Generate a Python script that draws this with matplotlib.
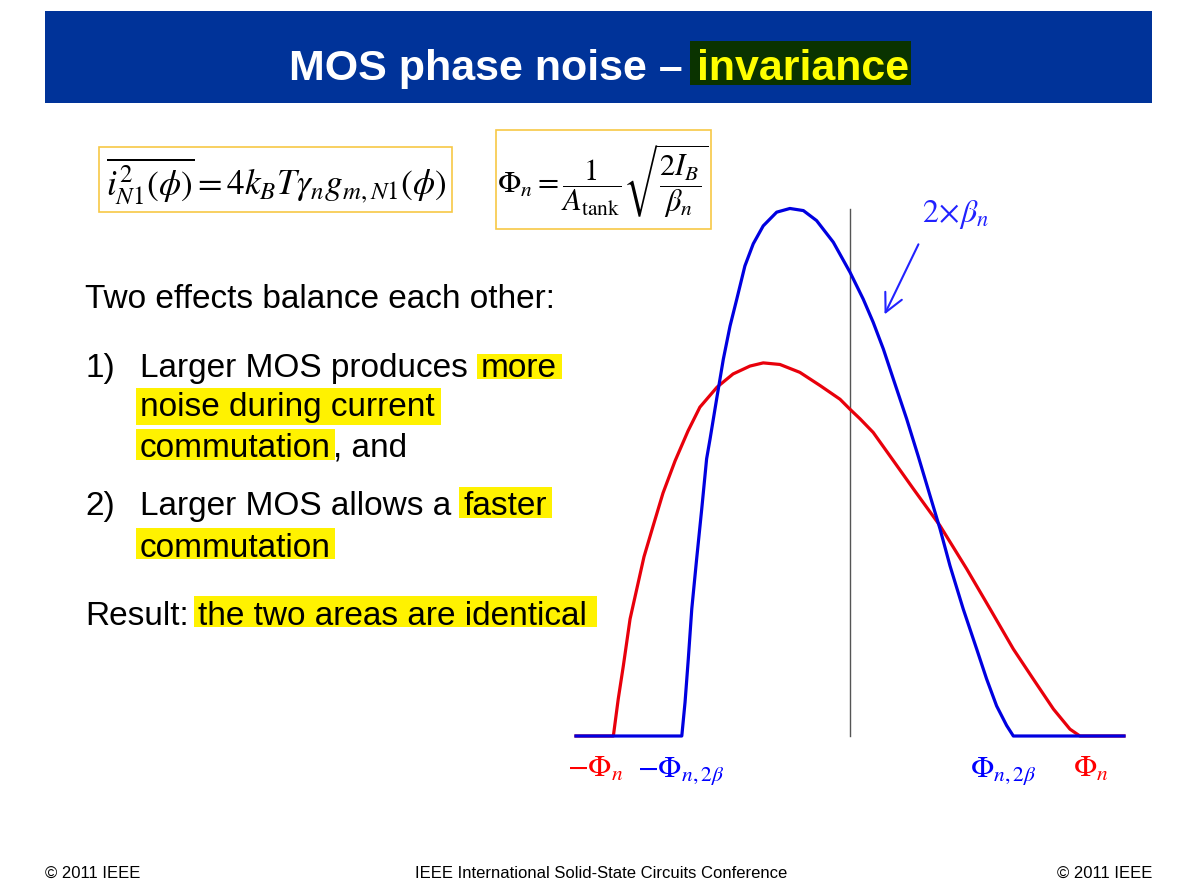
import matplotlib
matplotlib.use("Agg")
import matplotlib.pyplot as plt
from matplotlib.patches import Rectangle

plt.rcParams["font.family"] = ["Liberation Sans", "DejaVu Sans"]
plt.rcParams["mathtext.fontset"] = "stix"

# curves, normalised: phase (x) and noise density (y)
RED_X = [-1.181, -1.020, -0.999, -0.977, -0.948, -0.918, -0.888, -0.849, -0.806, -0.754,
         -0.698, -0.647, -0.573, -0.504, -0.431, -0.374, -0.302, -0.216, -0.129, -0.043,
         0.0, 0.043, 0.100, 0.194, 0.273, 0.388, 0.503, 0.604, 0.704, 0.790,
         0.877, 0.948, 0.991, 1.181]
RED_Y = [0.0, 0.0, 0.070, 0.133, 0.222, 0.281, 0.340, 0.398, 0.461, 0.522,
         0.579, 0.624, 0.662, 0.687, 0.702, 0.708, 0.705, 0.690, 0.665, 0.639,
         0.620, 0.602, 0.576, 0.518, 0.469, 0.399, 0.317, 0.241, 0.165, 0.108,
         0.051, 0.013, 0.0, 0.0]

BLUE_X = [-1.181, -0.725, -0.711, -0.697, -0.682, -0.661, -0.639, -0.618, -0.603, -0.575,
          -0.546, -0.517, -0.488, -0.453, -0.417, -0.374, -0.316, -0.259, -0.201, -0.144,
          -0.072, 0.0, 0.057, 0.100, 0.144, 0.187, 0.244, 0.294, 0.345, 0.388,
          0.431, 0.488, 0.546, 0.589, 0.632, 0.675, 0.704, 1.181]
BLUE_Y = [0.0, 0.0, 0.064, 0.146, 0.241, 0.336, 0.431, 0.526, 0.564, 0.639,
          0.715, 0.778, 0.829, 0.892, 0.934, 0.968, 0.994, 1.001, 0.997, 0.978,
          0.937, 0.880, 0.829, 0.785, 0.734, 0.677, 0.602, 0.531, 0.456, 0.393,
          0.323, 0.241, 0.165, 0.108, 0.057, 0.020, 0.0, 0.0]

TICK_X = [-1.097, -0.73, 0.66, 1.037]
TICK_LABELS = [r"$-\Phi_n$", r"$-\Phi_{n,2\beta}$", r"$\Phi_{n,2\beta}$", r"$\Phi_n$"]
TICK_COLORS = ["#FF0000", "#0000FF", "#0000FF", "#FF0000"]

RED = "#E8000B"
BLUE = "#0000E0"
YELLOW = "#FFF200"
BOX_EDGE = "#F7C846"

fig = plt.figure(figsize=(11.99, 8.87), dpi=100)

# slide layer in pixel coordinates
bg = fig.add_axes([0, 0, 1, 1])
bg.set_xlim(0, 1199)
bg.set_ylim(887, 0)
bg.axis("off")

# title bar
bg.add_patch(Rectangle((45, 12), 1107, 92, fc="#003399", ec="none"))
bg.add_patch(Rectangle((690, 42), 221, 44, fc="#0A3300", ec="none"))
bg.text(289, 80, "MOS phase noise \u2013 ", color="white", fontsize=31,
        fontweight="bold", va="baseline")
bg.text(697, 80, "invariance", color="#FFFF00", fontsize=31,
        fontweight="bold", va="baseline")

# formula boxes
bg.add_patch(Rectangle((99, 148), 353, 65, fc="white", ec=BOX_EDGE, lw=1.2))
bg.text(276, 181, r"$\overline{i_{N1}^{2}\left(\phi\right)} = 4k_B T\gamma_n g_{m,N1}\left(\phi\right)$",
        fontsize=25.5, ha="center", va="center")
bg.add_patch(Rectangle((496, 131), 215, 99, fc="white", ec=BOX_EDGE, lw=1.2))
bg.text(603, 181, r"$\Phi_n = \dfrac{1}{A_{\mathrm{tank}}}\sqrt{\dfrac{2I_B}{\beta_n}}$",
        fontsize=22, ha="center", va="center")

# highlight boxes
for x0, y0, w, h in [(477, 355, 85, 25), (136, 389, 305, 37), (136, 430, 199, 31),
                     (459, 488, 93, 31), (136, 529, 199, 31), (194, 597, 403, 31)]:
    bg.add_patch(Rectangle((x0, y0), w, h, fc=YELLOW, ec="none"))

body = dict(fontsize=24, va="baseline", color="black")
bg.text(85, 308, "Two effects balance each other:", **body)
bg.text(85, 377, "1)", **body)
bg.text(140, 377, "Larger MOS produces", **body)
bg.text(481, 377, "more", **body)
bg.text(140, 416, "noise during current", **body)
bg.text(140, 457, "commutation", **body)
bg.text(333, 457, ", and", **body)
bg.text(85, 515, "2)", **body)
bg.text(140, 515, "Larger MOS allows a", **body)
bg.text(463, 515, "faster", **body)
bg.text(140, 557, "commutation", **body)
bg.text(85, 625, "Result:", **body)
bg.text(198, 625, "the two areas are identical", **body)

# footer
bg.text(45, 878, "\u00a9 2011 IEEE", fontsize=12, va="baseline")
bg.text(601, 878, "IEEE International Solid-State Circuits Conference",
        fontsize=12, va="baseline", ha="center")
bg.text(1152, 878, "\u00a9 2011 IEEE", fontsize=12, va="baseline", ha="right")

# plot
ax = fig.add_axes([576 / 1199, 1 - 737 / 887, 548 / 1199, 527 / 887])
ax.set_xlim(-1.181, 1.181)
ax.set_ylim(0, 1.0)
ax.axis("off")

ax.plot([0, 0], [0, 1.0], color="#555555", lw=1.0, clip_on=False)
ax.plot(RED_X, RED_Y, color=RED, lw=2.3, clip_on=False, solid_joinstyle="round")
ax.plot(BLUE_X, BLUE_Y, color=BLUE, lw=2.3, clip_on=False, solid_joinstyle="round")

for x, label, c in zip(TICK_X, TICK_LABELS, TICK_COLORS):
    ax.text(x, -0.076, label, color=c, fontsize=22, ha="center", va="baseline")

ax.text(0.454, 0.978, r"$2\!\times\!\beta_n$", color="#2222FF", fontsize=23,
        ha="center", va="baseline")
ax.annotate("", xy=(0.149, 0.80), xytext=(0.295, 0.933),
            arrowprops=dict(arrowstyle="->,head_length=0.6,head_width=0.3",
                            color="#2222FF", lw=1.5,
                            mutation_scale=22, shrinkA=0, shrinkB=0),
            annotation_clip=False)

fig.savefig("out.png", dpi=100)
